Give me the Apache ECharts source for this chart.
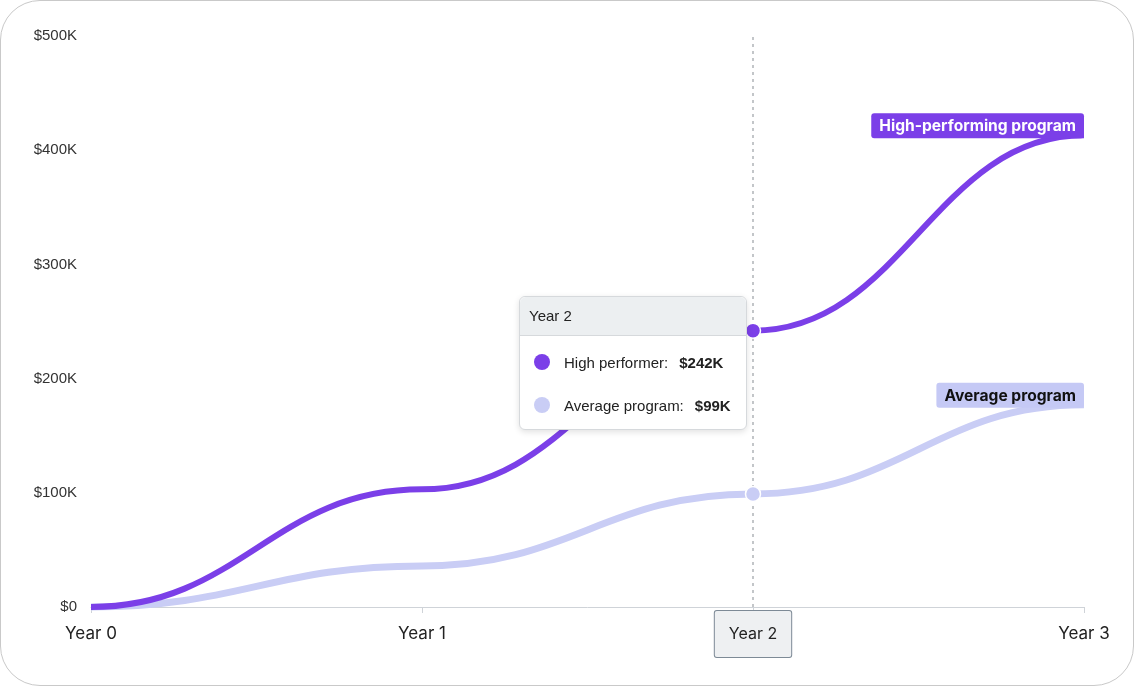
<!DOCTYPE html>
<html>
<head>
<meta charset="utf-8">
<script src="https://cdn.jsdelivr.net/npm/echarts@6/dist/echarts.min.js"></script>
<style>
  html, body { margin: 0; padding: 0; background: #fff; }
  #frame { position: absolute; left: 0; top: 0; width: 1134px; height: 686px; box-sizing: border-box;
    border: 1px solid #c9c9c9; border-radius: 40px; overflow: hidden; }
  #chart { width: 1134px; height: 686px; position: absolute; left: -1px; top: -1px; }
</style>
</head>
<body>
<div id="frame"><div id="chart"></div></div>
<script>
const categories = ['Year 0', 'Year 1', 'Year 2', 'Year 3'];
const highPerformer = [0, 103, 242, 413];   // $K
const averageProgram = [0, 36, 99, 177];    // $K
const yTicks = [0, 100, 200, 300, 400, 500];
const highName = 'High performer';
const avgName = 'Average program';
const highEndLabel = 'High-performing program';
const avgEndLabel = 'Average program';

const HIGH = '#7b3fe8';
const AVG = '#c9cdf5';

const chart = echarts.init(document.getElementById('chart'));
const fmtK = v => v === 0 ? '$0' : '$' + v + 'K';

// Curve through points with horizontal tangents at each point (cubic Bezier per segment)
function curveSeries(name, values, color, width, z) {
  return {
    name: name + ' curve',
    type: 'custom',
    data: values.map((v, i) => [i, v]),
    z: z,
    silent: true,
    tooltip: { show: false },
    renderItem: function (params, api) {
      if (params.dataIndex !== 0) return null;
      const pts = values.map((v, i) => api.coord([i, v]));
      let d = 'M' + pts[0][0] + ' ' + pts[0][1];
      for (let i = 1; i < pts.length; i++) {
        const a = pts[i - 1], b = pts[i];
        const k = (b[0] - a[0]) * 0.45;
        d += ' C' + (a[0] + k) + ' ' + a[1] + ' ' + (b[0] - k) + ' ' + b[1] + ' ' + b[0] + ' ' + b[1];
      }
      return {
        type: 'path',
        shape: { pathData: d },
        style: { fill: null, stroke: color, lineWidth: width, lineCap: 'butt', lineJoin: 'round' }
      };
    }
  };
}

function pointSeries(name, values, color, labelText, labelBg, labelColor, lw) {
  return {
    name: name,
    type: 'line',
    data: values,
    showSymbol: false,
    symbol: 'circle',
    symbolSize: 15,
    itemStyle: { color: color, borderColor: '#fff', borderWidth: 1.5 },
    lineStyle: { color: color, width: lw, opacity: 0 },
    emphasis: { disabled: false, scale: false, lineStyle: { width: lw, opacity: 0 } },
    z: 5,
    endLabel: {
      show: true,
      formatter: labelText,
      position: 'top',
      align: 'right',
      verticalAlign: 'bottom',
      distance: 0,
      offset: [0, 3],
      color: labelColor,
      fontFamily: 'Inter',
      fontWeight: 'bold',
      fontSize: 15.6,
      backgroundColor: labelBg,
      padding: [5, 8, 4, 8],
      borderRadius: 3
    }
  };
}

chart.setOption({
  animation: false,
  grid: { left: 91, right: 50, top: 36, bottom: 79, containLabel: false },
  xAxis: {
    type: 'category',
    data: categories,
    boundaryGap: false,
    axisLine: { lineStyle: { color: '#cfd3d8', width: 1 } },
    axisTick: { show: true, length: 6, lineStyle: { color: '#cfd3d8' } },
    axisLabel: { color: '#222', fontFamily: 'Inter', fontSize: 17, margin: 18 },
    axisPointer: {
      show: true,
      type: 'line',
      z: 1,
      lineStyle: { color: '#b0b4b8', type: [3, 4], width: 1.5 },
      label: {
        show: true,
        color: '#222',
        fontFamily: 'Inter',
        fontSize: 16,
        backgroundColor: '#eef0f2',
        borderColor: '#7d8a96',
        borderWidth: 1,
        borderRadius: 2,
        padding: [15, 14, 15, 14],
        margin: 4,
        shadowBlur: 0
      }
    }
  },
  yAxis: {
    type: 'value',
    min: 0, max: 500, interval: 100,
    splitLine: { show: false },
    axisLine: { show: false },
    axisTick: { show: false },
    axisLabel: { color: '#333', fontFamily: 'Liberation Sans, Arial', fontSize: 15, margin: 14,
      formatter: v => yTicks.indexOf(v) >= 0 ? fmtK(v) : '' }
  },
  tooltip: {
    trigger: 'axis',
    alwaysShowContent: true,
    triggerOn: 'none',
    padding: 0,
    borderColor: '#d6d9dc',
    borderWidth: 1,
    borderRadius: 6,
    backgroundColor: '#fff',
    extraCssText: 'box-shadow: 0 2px 6px rgba(0,0,0,0.12); width:226px;',
    position: function () { return [519, 296]; },
    formatter: function (params) {
      const head = '<div style="background:#eceff1;border-bottom:1px solid #d6d9dc;height:38px;font-size:15px;font-family:Liberation Sans, Arial;line-height:38px;padding:0 9px;color:#222;border-radius:6px 6px 0 0;">' + params[0].axisValue + '</div>';
      let rows = '';
      params.filter(p => p.seriesType === 'line').forEach(function (p, i) {
        const c = p.seriesIndex === 2 ? HIGH : AVG;
        rows += '<div style="display:flex;align-items:center;height:20px;margin-top:' + (i === 0 ? '16px' : '23px') + ';padding:0 14px;font-size:15px;font-family:Liberation Sans, Arial;color:#222;">' +
          '<span style="display:inline-block;width:16px;height:16px;border-radius:50%;background:' + c + ';margin-right:14px;"></span>' +
          '<span>' + p.seriesName + ':</span><b style="margin-left:11px;">' + fmtK(p.value) + '</b></div>';
      });
      return head + rows + '<div style="height:14px"></div>';
    }
  },
  series: [
    curveSeries(avgName, averageProgram, AVG, 7, 1),
    curveSeries(highName, highPerformer, HIGH, 6, 2),
    pointSeries(highName, highPerformer, HIGH, highEndLabel, HIGH, '#fff', 6),
    pointSeries(avgName, averageProgram, AVG, avgEndLabel, '#c5c9f5', '#111', 7)
  ]
});

chart.dispatchAction({ type: 'showTip', seriesIndex: 2, dataIndex: 2 });
</script>
</body>
</html>
